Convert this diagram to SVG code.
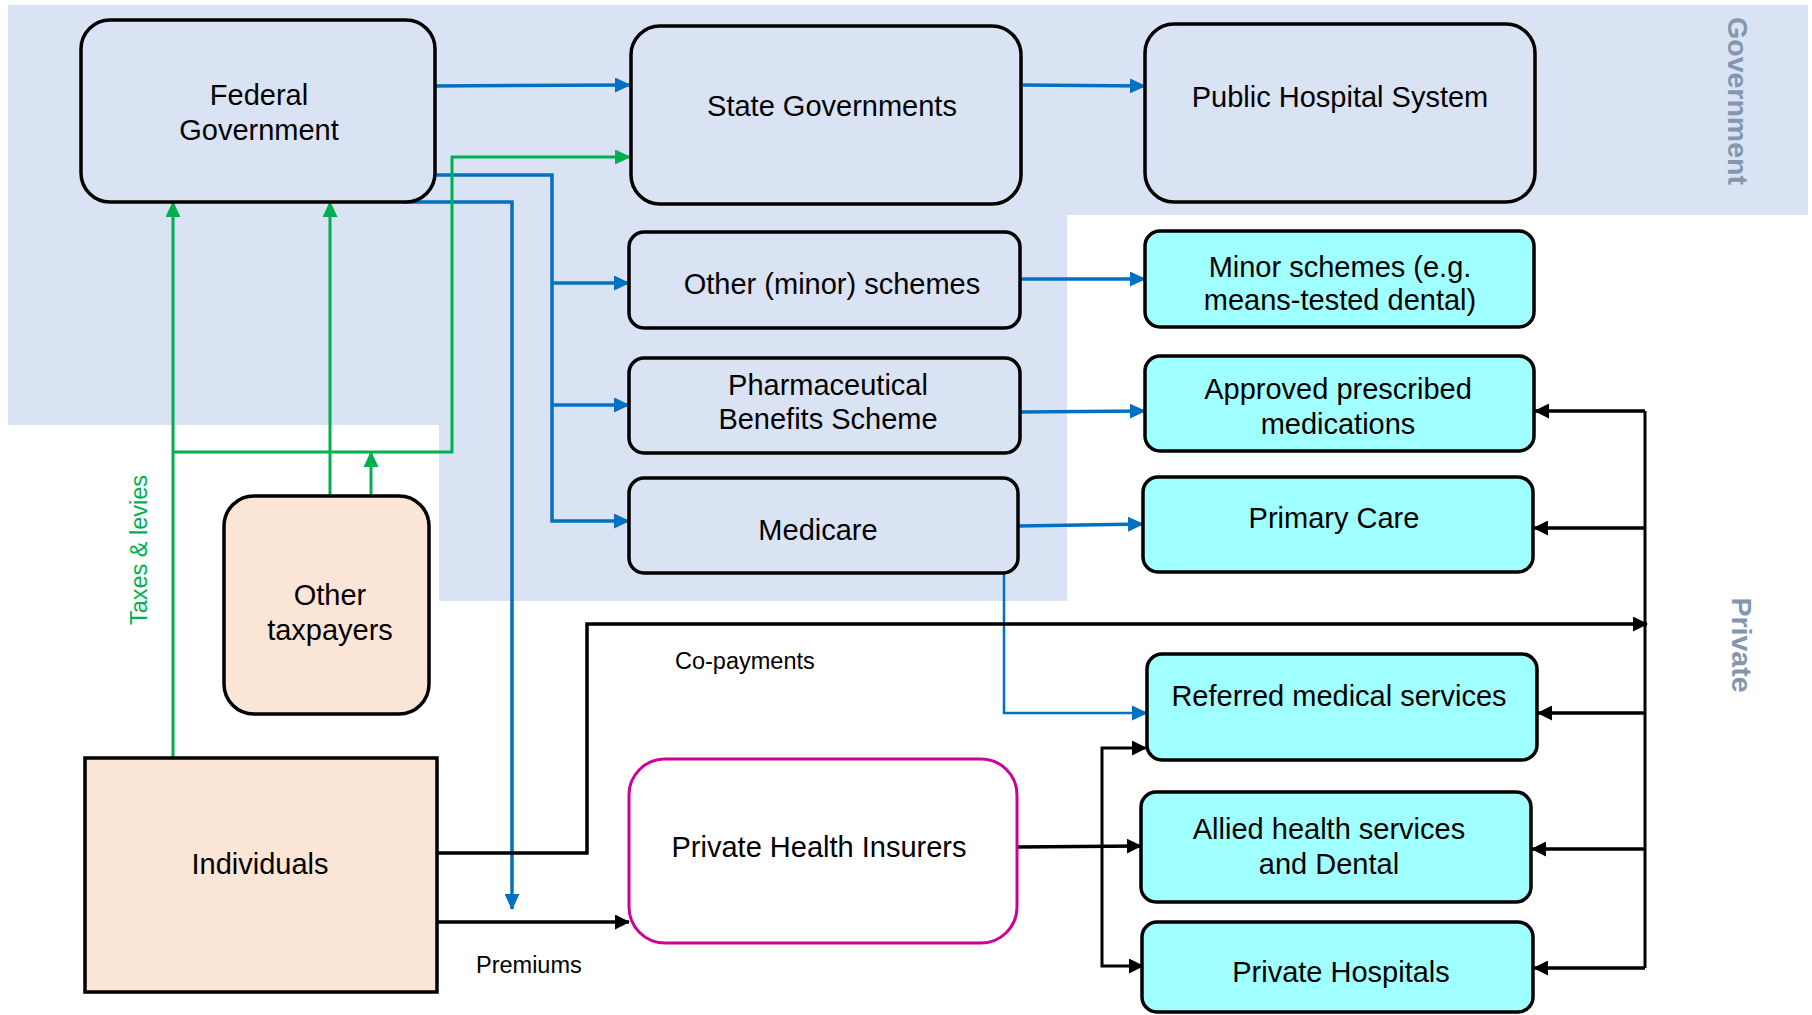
<svg xmlns="http://www.w3.org/2000/svg" width="1812" height="1015" viewBox="0 0 1812 1015">
<style>
.t{font-family:"Liberation Sans",Arial,sans-serif;font-size:29px;fill:#000;text-anchor:middle}
.s{font-family:"Liberation Sans",Arial,sans-serif;font-size:23.5px;fill:#000}
.lab{font-family:"Liberation Sans",Arial,sans-serif;font-size:28.5px;font-weight:bold;fill:#8497B0;text-anchor:middle}
.gov{fill:#DAE3F3;stroke:#000;stroke-width:3.5}
.cy{fill:#A0FFFF;stroke:#000;stroke-width:3.5}
.pe{fill:#FBE5D6;stroke:#000;stroke-width:3.5}
.bl{fill:none;stroke:#0070C0;stroke-width:3.5}
.gr{fill:none;stroke:#00B050;stroke-width:3}
.bk{fill:none;stroke:#000;stroke-width:3.5}
</style>
<defs>
<marker id="ab" markerUnits="userSpaceOnUse" markerWidth="16" markerHeight="15" viewBox="0 0 16 15" refX="15" refY="7.5" orient="auto"><path d="M0,0L16,7.5L0,15z" fill="#0070C0"/></marker>
<marker id="ag" markerUnits="userSpaceOnUse" markerWidth="16" markerHeight="15" viewBox="0 0 16 15" refX="15" refY="7.5" orient="auto"><path d="M0,0L16,7.5L0,15z" fill="#00B050"/></marker>
<marker id="ak" markerUnits="userSpaceOnUse" markerWidth="15" markerHeight="15" viewBox="0 0 15 15" refX="14" refY="7.5" orient="auto"><path d="M0,0L15,7.5L0,15z" fill="#000"/></marker>
</defs>
<rect width="1812" height="1015" fill="#fff"/>
<path id="government-region" d="M8,5H1808V215H1067V601H439V425H8Z" fill="#DAE3F3"/>
<text class="lab" transform="translate(1728,101) rotate(90)">Government</text>
<text class="lab" transform="translate(1732,645) rotate(90)">Private</text>

<g id="connectors">
<path class="bl" d="M431,86L630,85" marker-end="url(#ab)"/>
<path class="bl" d="M1023,85L1145,86" marker-end="url(#ab)"/>
<path class="bl" d="M429,175H552V521H629" marker-end="url(#ab)"/>
<path class="bl" d="M552,283H629" marker-end="url(#ab)"/>
<path class="bl" d="M552,405H629" marker-end="url(#ab)"/>
<path class="bl" d="M404,202H512V909" marker-end="url(#ab)"/>
<path class="bl" d="M1020,279L1145,279" marker-end="url(#ab)"/>
<path class="bl" d="M1020,412L1145,411" marker-end="url(#ab)"/>
<path class="bl" d="M1018,526L1143,524" marker-end="url(#ab)"/>
<path class="bl" style="stroke-width:2.5" d="M1004,573V713H1147" marker-end="url(#ab)"/>
<path class="gr" d="M173,758V202" marker-end="url(#ag)"/>
<path class="gr" d="M330,496V202" marker-end="url(#ag)"/>
<path class="gr" d="M173,452H452V157H630" marker-end="url(#ag)"/>
<path class="gr" d="M371,496V452" marker-end="url(#ag)"/>
<path class="bk" d="M437,853H587V624H1647" marker-end="url(#ak)"/>
<path class="bk" d="M437,922H629" marker-end="url(#ak)"/>
<path class="bk" d="M1017,847L1141,846" marker-end="url(#ak)"/>
<path class="bk" style="stroke-width:3" d="M1102,857V748H1146" marker-end="url(#ak)"/>
<path class="bk" style="stroke-width:3" d="M1102,857V966H1143" marker-end="url(#ak)"/>
<path class="bk" style="stroke-width:3" d="M1645,411V968"/>
<path class="bk" d="M1645,411H1535" marker-end="url(#ak)"/>
<path class="bk" d="M1645,528H1534" marker-end="url(#ak)"/>
<path class="bk" d="M1645,713H1538" marker-end="url(#ak)"/>
<path class="bk" d="M1645,849H1532" marker-end="url(#ak)"/>
<path class="bk" d="M1645,968H1534" marker-end="url(#ak)"/>
<text class="s" x="675" y="669">Co-payments</text>
<text class="s" x="476" y="973">Premiums</text>
<text class="s" style="fill:#00B050;text-anchor:middle" transform="translate(147,550) rotate(-90)">Taxes &amp; levies</text>
</g>

<g id="federal-government">
<rect class="gov" x="81" y="20" width="354" height="182" rx="29"/>
<text class="t" x="259" y="105">Federal</text>
<text class="t" x="259" y="140">Government</text>
</g>
<g id="state-governments">
<rect class="gov" x="631" y="26" width="390" height="178" rx="29"/>
<text class="t" x="832" y="116">State Governments</text>
</g>
<g id="public-hospital-system">
<rect class="gov" x="1145" y="24" width="390" height="178" rx="29"/>
<text class="t" x="1340" y="107">Public Hospital System</text>
</g>
<g id="other-minor-schemes">
<rect class="gov" x="629" y="232" width="391" height="96" rx="15"/>
<text class="t" x="832" y="294">Other (minor) schemes</text>
</g>
<g id="minor-schemes">
<rect class="cy" x="1145" y="231" width="389" height="96" rx="15"/>
<text class="t" x="1340" y="277">Minor schemes (e.g.</text>
<text class="t" x="1340" y="310">means-tested dental)</text>
</g>
<g id="pbs">
<rect class="gov" x="629" y="358" width="391" height="95" rx="15"/>
<text class="t" x="828" y="395">Pharmaceutical</text>
<text class="t" x="828" y="429">Benefits Scheme</text>
</g>
<g id="approved-medications">
<rect class="cy" x="1145" y="356" width="389" height="95" rx="15"/>
<text class="t" x="1338" y="399">Approved prescribed</text>
<text class="t" x="1338" y="434">medications</text>
</g>
<g id="medicare">
<rect class="gov" x="629" y="478" width="389" height="95" rx="15"/>
<text class="t" x="818" y="540">Medicare</text>
</g>
<g id="primary-care">
<rect class="cy" x="1143" y="477" width="390" height="95" rx="15"/>
<text class="t" x="1334" y="528">Primary Care</text>
</g>
<g id="referred-medical-services">
<rect class="cy" x="1147" y="654" width="390" height="106" rx="15"/>
<text class="t" x="1339" y="706">Referred medical services</text>
</g>
<g id="allied-health">
<rect class="cy" x="1141" y="792" width="390" height="110" rx="15"/>
<text class="t" x="1329" y="839">Allied health services</text>
<text class="t" x="1329" y="874">and Dental</text>
</g>
<g id="private-hospitals">
<rect class="cy" x="1142" y="922" width="391" height="90" rx="15"/>
<text class="t" x="1341" y="982">Private Hospitals</text>
</g>
<g id="private-health-insurers">
<rect x="629" y="759" width="388" height="184" rx="36" fill="#fff" stroke="#CC0099" stroke-width="3"/>
<text class="t" x="819" y="857">Private Health Insurers</text>
</g>
<g id="other-taxpayers">
<rect class="pe" x="224" y="496" width="205" height="218" rx="30"/>
<text class="t" x="330" y="605">Other</text>
<text class="t" x="330" y="640">taxpayers</text>
</g>
<g id="individuals">
<rect class="pe" x="85" y="758" width="352" height="234"/>
<text class="t" x="260" y="874">Individuals</text>
</g>
</svg>
